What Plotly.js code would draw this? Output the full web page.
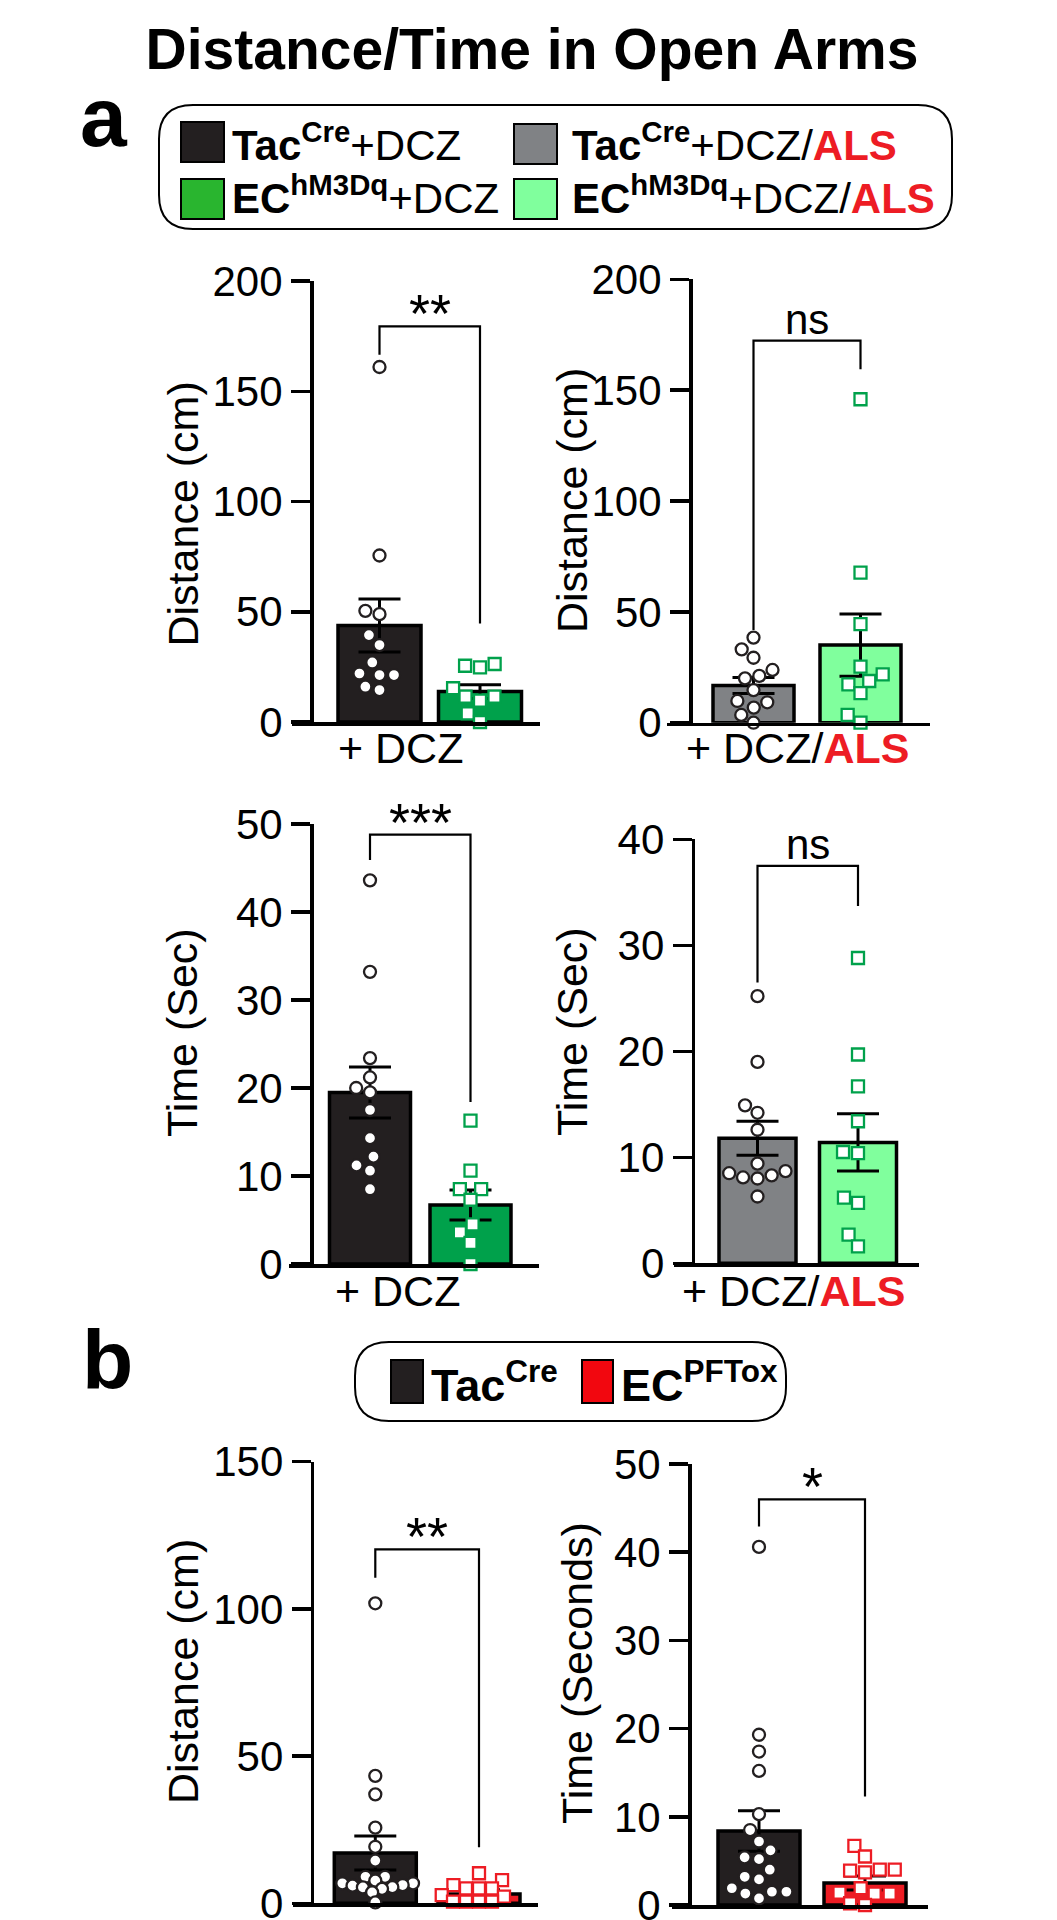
<!DOCTYPE html>
<html><head><meta charset="utf-8">
<script src="https://cdn.plot.ly/plotly-3.0.1.min.js"></script>
<style>html,body{margin:0;padding:0;background:#fff}</style>
</head><body>
<div id="chart" style="width:1057px;height:1920px"></div>
<script>
// ================= DATA =================
const chartTitle = 'Distance/Time in Open Arms';
const legendA = ['<b>Tac</b><sup><b>Cre</b></sup>+DCZ',
                 '<b>Tac</b><sup><b>Cre</b></sup>+DCZ/<span style="color:#ed1c24"><b>ALS</b></span>',
                 '<b>EC</b><sup><b>hM3Dq</b></sup>+DCZ',
                 '<b>EC</b><sup><b>hM3Dq</b></sup>+DCZ/<span style="color:#ed1c24"><b>ALS</b></span>'];
const legendB = ['<b>Tac</b><sup><b>Cre</b></sup>', '<b>EC</b><sup><b>PFTox</b></sup>'];
const xLabelDCZ = '+ DCZ';
const xLabelALS = '+ DCZ/<span style="color:#ed1c24"><b>ALS</b></span>';
const yTitleDist = 'Distance (cm)';
const yTitleSec = 'Time (Sec)';
const yTitleSeconds = 'Time (Seconds)';

// a: Distance, +DCZ
const a1Tac = [161, 75.5, 50.4, 48.9, 39.4, 34.9, 27, 22, 21.3, 21.3, 16, 14.5];
const a1EC  = [26.3, 25.5, 24.8, 15.3, 11.5, 11.5, 9.7, 3.9, 0];
const a1Mean = [43.8, 13.8];
const a1Sem  = [12.0, 3.1];
const a1Bracket = [166.6, 179.4, 44.7]; const a1Sig = '**';
// a: Distance, +DCZ/ALS
const a2Tac = [38.4, 33.1, 29.3, 23.8, 21.1, 20, 14.7, 9.8, 9.2, 6.8, 3.5, 0];
const a2EC  = [145.9, 67.7, 44.5, 25.3, 21.8, 18.8, 17.3, 13.3, 3.5, 0];
const a2Mean = [16.8, 35.0];
const a2Sem  = [3.6, 14.0];
const a2Bracket = [41.8, 172.3, 159.4]; const a2Sig = 'ns';
// a: Time, +DCZ
const a3Tac = [43.6, 33.2, 23.4, 21.2, 20, 19.5, 17.5, 14.3, 12.2, 11.2, 10.6, 8.5];
const a3EC  = [16.3, 10.6, 8.5, 8.5, 7.3, 4.5, 3.6, 2.4, 0];
const a3Mean = [19.5, 6.7];
const a3Sem  = [2.9, 1.7];
const a3Bracket = [45.9, 48.8, 18.4]; const a3Sig = '***';
// a: Time, +DCZ/ALS
const a4Tac = [25.2, 19, 14.9, 14.2, 12.6, 9.4, 8.7, 8.5, 8.3, 8.1, 8.0, 6.3];
const a4EC  = [28.8, 19.7, 16.7, 13.4, 10.5, 10.4, 6.2, 5.7, 2.7, 1.6];
const a4Mean = [11.8, 11.4];
const a4Sem  = [1.6, 2.7];
const a4Bracket = [26.5, 37.5, 33.7]; const a4Sig = 'ns';
// b: Distance
const b1Tac = [101.9, 43.3, 37, 25.7, 19.2, 14.5, 9, 9, 7.7, 6.8, 6.8, 6.2, 6, 5.5, 5.4, 4.9, 3.7, 0.3];
const b1EC  = [10.2, 7.9, 6.2, 5.1, 5.1, 5.1, 2.8, 2.3, 0.6, 0.6, 0.6, 0.6];
const b1Mean = [17.1, 3.2];
const b1Sem  = [5.8, 1.4];
const b1Bracket = [110.6, 120.2, 19.0]; const b1Sig = '**';
// b: Time
const b2Tac = [40.6, 19.3, 17.4, 15.2, 10.3, 8.5, 7.2, 6.2, 5.4, 5.2, 4, 3.2, 2.9, 1.9, 1.5, 1.5, 1.3, 0.75];
const b2EC  = [6.7, 5.5, 4, 4, 3.9, 3.7, 1.9, 1.4, 1.3, 1.3, 0.2, 0];
const b2Mean = [8.4, 2.5];
const b2Sem  = [2.3, 0.8];
const b2Bracket = [42.9, 46.0, 12.3]; const b2Sig = '*';

// ================= STYLE / LAYOUT =================
const W = 1057, H = 1920;
const FONT = 'Liberation Sans, Arial, Helvetica, sans-serif';
const C = {black:'#231f20', green:'#00a14b', gray:'#808285', lgreen:'#80ff9d', red:'#ed1c24',
           legGreen:'#29b52f', legRed:'#f2070f'};
const px = x => x / W, py = y => 1 - y / H;

const panels = [
  {tac:a1Tac, ec:a1EC, mean:a1Mean, sem:a1Sem, br:a1Bracket, sig:a1Sig, cols:[C.black,C.green], ecLine:C.green,
   xs:292, xe:540, ax:311, yb:722, yt:281, ymax:200, dtick:50, c:[379.5,480], bw:83, dT:14.5, dE:15,
   yt_title:yTitleDist, ytx:182.5, yty:514, xl:xLabelDCZ, xlx:400, xly:748},
  {tac:a2Tac, ec:a2EC, mean:a2Mean, sem:a2Sem, br:a2Bracket, sig:a2Sig, cols:[C.gray,C.lgreen], ecLine:C.green,
   xs:667, xe:930, ax:690, yb:722.7, yt:279.3, ymax:200, dtick:50, c:[753.5,860.5], bw:81, dT:14.5, dE:15,
   yt_title:yTitleDist, ytx:572, yty:501, xl:xLabelALS, xlx:797, xly:748},
  {tac:a3Tac, ec:a3EC, mean:a3Mean, sem:a3Sem, br:a3Bracket, sig:a3Sig, cols:[C.black,C.green], ecLine:C.green,
   xs:289, xe:539, ax:311, yb:1264, yt:824, ymax:50, dtick:10, c:[370,470.5], bw:81, dT:14.5, dE:15,
   yt_title:yTitleSec, ytx:182, yty:1033, xl:xLabelDCZ, xlx:397, xly:1291},
  {tac:a4Tac, ec:a4EC, mean:a4Mean, sem:a4Sem, br:a4Bracket, sig:a4Sig, cols:[C.gray,C.lgreen], ecLine:C.green,
   xs:674, xe:919, ax:692.7, yb:1263.3, yt:839.3, ymax:40, dtick:10, c:[757.5,858], bw:77, dT:14.5, dE:15,
   yt_title:yTitleSec, ytx:572, yty:1032, xl:xLabelALS, xlx:793, xly:1291},
  {tac:b1Tac, ec:b1EC, mean:b1Mean, sem:b1Sem, br:b1Bracket, sig:b1Sig, cols:[C.black,C.red], ecLine:C.red,
   xs:293, xe:538, ax:311.7, yb:1903.3, yt:1461.7, ymax:150, dtick:50, c:[375.3,479], bw:82, dT:10.5, dE:13,
   yt_title:yTitleDist, ytx:183, yty:1672},
  {tac:b2Tac, ec:b2EC, mean:b2Mean, sem:b2Sem, br:b2Bracket, sig:b2Sig, cols:[C.black,C.red], ecLine:C.red,
   xs:671.7, xe:928, ax:689, yb:1905, yt:1464, ymax:50, dtick:10, c:[759,865], bw:82, dT:14.5, dE:15,
   yt_title:yTitleSeconds, ytx:577, yty:1673}
];

// beeswarm offsets (px) so markers do not overlap
function swarm(values, pxPerY, d) {
  const order = values.map((v,i)=>i).sort((i,j)=>values[i]-values[j]);
  const placed = [], out = new Array(values.length);
  for (const i of order) {
    const y = values[i]*pxPerY;
    const cands = [0];
    for (const p of placed) {
      const dy = Math.abs(p.y - y);
      if (dy < d) { const dx = Math.sqrt(d*d - dy*dy); cands.push(p.x+dx, p.x-dx); }
    }
    cands.sort((a,b)=>Math.abs(a)-Math.abs(b) || a-b);
    let ch = 0;
    for (const cx of cands) {
      if (placed.every(p => (p.x-cx)**2 + (p.y-y)**2 >= d*d - 0.01)) { ch = cx; break; }
    }
    placed.push({x:ch, y}); out[i] = ch;
  }
  return out;
}

const traces = [], shapes = [], annotations = [];
const layout = {width:W, height:H, margin:{l:0,r:0,t:0,b:0}, paper_bgcolor:'#fff', plot_bgcolor:'rgba(0,0,0,0)',
  showlegend:false, font:{family:FONT, color:'#000'},
  title:{text:'<b>'+chartTitle+'</b>', x:532/W, xref:'paper', xanchor:'center', y:py(49), yref:'paper', yanchor:'middle',
         font:{size:57, family:FONT, color:'#000'}}};

panels.forEach((p, k) => {
  const n = k + 1, xa = n===1?'x':'x'+n, ya = n===1?'y':'y'+n;
  const s = p.c[1] - p.c[0];
  const pxPerY = (p.yb - p.yt) / p.ymax;
  layout[n===1?'xaxis':'xaxis'+n] = {domain:[px(p.xs), px(p.xe)], range:[(p.xs-p.c[0])/s, (p.xe-p.c[0])/s],
    anchor:ya, showline:true, linewidth:3.5, linecolor:'#000', ticks:'', showticklabels:false,
    showgrid:false, zeroline:false, fixedrange:true};
  const tv = []; for (let v=0; v<=p.ymax+1e-9; v+=p.dtick) tv.push(v);
  layout[n===1?'yaxis':'yaxis'+n] = {domain:[py(p.yb), py(p.yt)], range:[0, p.ymax], anchor:'free', position:px(p.ax),
    showline:true, linewidth:3.5, linecolor:'#000', ticks:'outside', ticklen:19, tickwidth:3.5, tickcolor:'#000',
    tickvals:tv, ticktext:tv.map(String), ticklabeloverflow:'allow',
    tickfont:{size:42, family:FONT, color:'#000'}, showgrid:false, zeroline:false, fixedrange:true};

  traces.push({type:'bar', x:[0,1], y:p.mean, xaxis:xa, yaxis:ya, width:p.bw/s,
    marker:{color:p.cols, line:{color:'#000', width:3.5}},
    error_y:{type:'data', array:p.sem, visible:true, color:'#000', thickness:3, width:21}});

  const offT = swarm(p.tac, pxPerY, p.dT), offE = swarm(p.ec, pxPerY, p.dE);
  traces.push({type:'scatter', mode:'markers', xaxis:xa, yaxis:ya, cliponaxis:false,
    x:p.tac.map((v,i)=>0 + offT[i]/s), y:p.tac,
    marker:{symbol:'circle', size:12, color:'#fff', line:{color:C.black, width:2.3}}});
  traces.push({type:'scatter', mode:'markers', xaxis:xa, yaxis:ya, cliponaxis:false,
    x:p.ec.map((v,i)=>1 + offE[i]/s), y:p.ec,
    marker:{symbol:'square', size:12, color:'#fff', line:{color:p.ecLine, width:2.3}}});

  // significance bracket
  shapes.push({type:'path', xref:xa, yref:ya, layer:'above',
    path:`M 0,${p.br[0]} L 0,${p.br[1]} L 1,${p.br[1]} L 1,${p.br[2]}`, line:{color:'#000', width:2.2}});
  const isNs = p.sig === 'ns';
  annotations.push({xref:xa, yref:ya, x:0.5, y:p.br[1], text:p.sig, showarrow:false, xanchor:'center', yanchor:'bottom',
    yshift: isNs ? -4 : -19, font:{size: isNs ? 42 : 54, family:FONT, color:'#000'}});
  // axis titles
  annotations.push({xref:'paper', yref:'paper', x:px(p.ytx), y:py(p.yty), text:p.yt_title, textangle:-90, showarrow:false,
    xanchor:'center', yanchor:'middle', font:{size:43, family:FONT, color:'#000'}});
  if (p.xl) annotations.push({xref:'paper', yref:'paper', x:px(p.xlx), y:py(p.xly), text:p.xl, showarrow:false,
    xanchor:'center', yanchor:'middle', font:{size:43, family:FONT, color:'#000'}});
});

// panel letters
annotations.push({xref:'paper', yref:'paper', x:px(104), y:py(117), text:'<b>a</b>', showarrow:false, xanchor:'center', yanchor:'middle', font:{size:84, family:FONT, color:'#000'}});
annotations.push({xref:'paper', yref:'paper', x:px(107), y:py(1360), text:'<b>b</b>', showarrow:false, xanchor:'center', yanchor:'middle', font:{size:84, family:FONT, color:'#000'}});

// rounded legend boxes
function roundRect(x0,y0,x1,y1,r){
  const P=(x,y)=>`${px(x)},${py(y)}`;
  return `M ${P(x0+r,y0)} L ${P(x1-r,y0)} Q ${P(x1,y0)} ${P(x1,y0+r)} L ${P(x1,y1-r)} Q ${P(x1,y1)} ${P(x1-r,y1)} `+
         `L ${P(x0+r,y1)} Q ${P(x0,y1)} ${P(x0,y1-r)} L ${P(x0,y0+r)} Q ${P(x0,y0)} ${P(x0+r,y0)} Z`;
}
shapes.push({type:'path', xref:'paper', yref:'paper', path:roundRect(159,105,952,229,34), line:{color:'#000', width:2}});
shapes.push({type:'path', xref:'paper', yref:'paper', path:roundRect(355,1342,786,1421,34), line:{color:'#000', width:2}});
function sq(x0,y0,x1,y1,col){ shapes.push({type:'rect', xref:'paper', yref:'paper', x0:px(x0), x1:px(x1), y0:py(y1), y1:py(y0),
  fillcolor:col, line:{color:'#000', width:2}}); }
sq(181,122,224,162,C.black); sq(514,124,557,164,C.gray); sq(181,179,224,219,C.legGreen); sq(514,179,557,219,C.lgreen);
sq(391,1360,423,1403,C.black); sq(582,1360,613,1403,C.legRed);
function legText(x,y,t,size){ annotations.push({xref:'paper', yref:'paper', x:px(x), y:py(y), text:t, showarrow:false,
  xanchor:'left', yanchor:'middle', font:{size:size, family:FONT, color:'#000'}}); }
legText(230,142,legendA[0],42); legText(570,142,legendA[1],42);
legText(230,195,legendA[2],42); legText(570,195,legendA[3],42);
legText(429,1382,legendB[0],45); legText(619,1382,legendB[1],45);

layout.shapes = shapes; layout.annotations = annotations;
Plotly.newPlot('chart', traces, layout, {staticPlot:true, displayModeBar:false});
</script>
</body></html>
